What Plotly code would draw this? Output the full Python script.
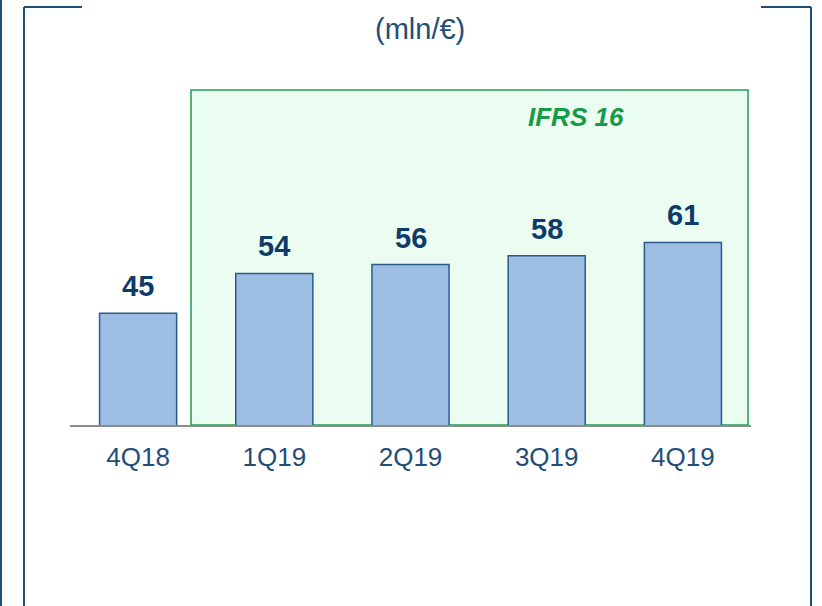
import plotly.graph_objects as go

trimestri = ['4Q18', '1Q19', '2Q19', '3Q19', '4Q19']
valori = [45, 54, 56, 58, 61]

BLU = '#1F4E79'
NAVY = '#0E3B68'

# conversione pixel -> paper (area grafico 70..751 x, 90..425 y)
def px(x):
    return (x - 70) / 681

def py(y):
    return (425 - y) / 335

fig = go.Figure(go.Bar(
    x=trimestri, y=valori,
    marker=dict(color='#9DBDE3', line=dict(color='#2A5A8C', width=1.5)),
    width=0.566,
    hoverinfo='skip'))

# Riquadro IFRS 16
fig.add_shape(type='rect', xref='paper', yref='paper',
              x0=px(191), x1=px(748), y0=0, y1=1,
              fillcolor='#EAFDF0', line=dict(color='#1E9E50', width=1.5),
              layer='below')
fig.add_annotation(xref='paper', yref='paper', x=px(576), y=py(117),
                   xanchor='center', yanchor='middle',
                   text='<b><i>IFRS 16</i></b>', showarrow=False,
                   font=dict(family='Liberation Sans, Arial', size=26, color='#169A48'))

# Etichette valori
for t, v in zip(trimestri, valori):
    fig.add_annotation(x=t, y=v, text=f'<b>{v}</b>', showarrow=False,
                       yanchor='bottom', yshift=9,
                       font=dict(family='Liberation Sans, Arial', size=29, color=NAVY))

# Cornice della slide
cornice = [
    (24, 7, 24, 620), (24, 7, 82, 7),
    (811, 7, 811, 620), (761, 7, 811, 7),
    (1, 0, 1, 620),
]
for x0, y0, x1, y1 in cornice:
    fig.add_shape(type='line', xref='paper', yref='paper',
                  x0=px(x0), y0=py(y0), x1=px(x1), y1=py(y1),
                  line=dict(color=BLU, width=2))

fig.add_annotation(xref='paper', yref='paper', x=px(420), y=py(29),
                   xanchor='center', yanchor='middle',
                   text='(mln/€)', showarrow=False,
                   font=dict(family='Liberation Sans, Arial', size=29, color=BLU))

fig.update_layout(
    width=822, height=606,
    margin=dict(l=70, r=71, t=90, b=181),
    plot_bgcolor='white', paper_bgcolor='white',
    showlegend=False,
    xaxis=dict(showline=True, linecolor='#8C8C8C', linewidth=2,
               ticks='outside', ticklen=8, tickcolor='rgba(0,0,0,0)',
               tickfont=dict(family='Liberation Sans, Arial', size=26, color=BLU),
               showgrid=False, range=[-0.5, 4.5]),
    yaxis=dict(range=[19.8, 95.4], visible=False, showgrid=False),
)

fig.write_html('out.html', config={'displayModeBar': False},
               post_script="document.body.style.margin='0';")
